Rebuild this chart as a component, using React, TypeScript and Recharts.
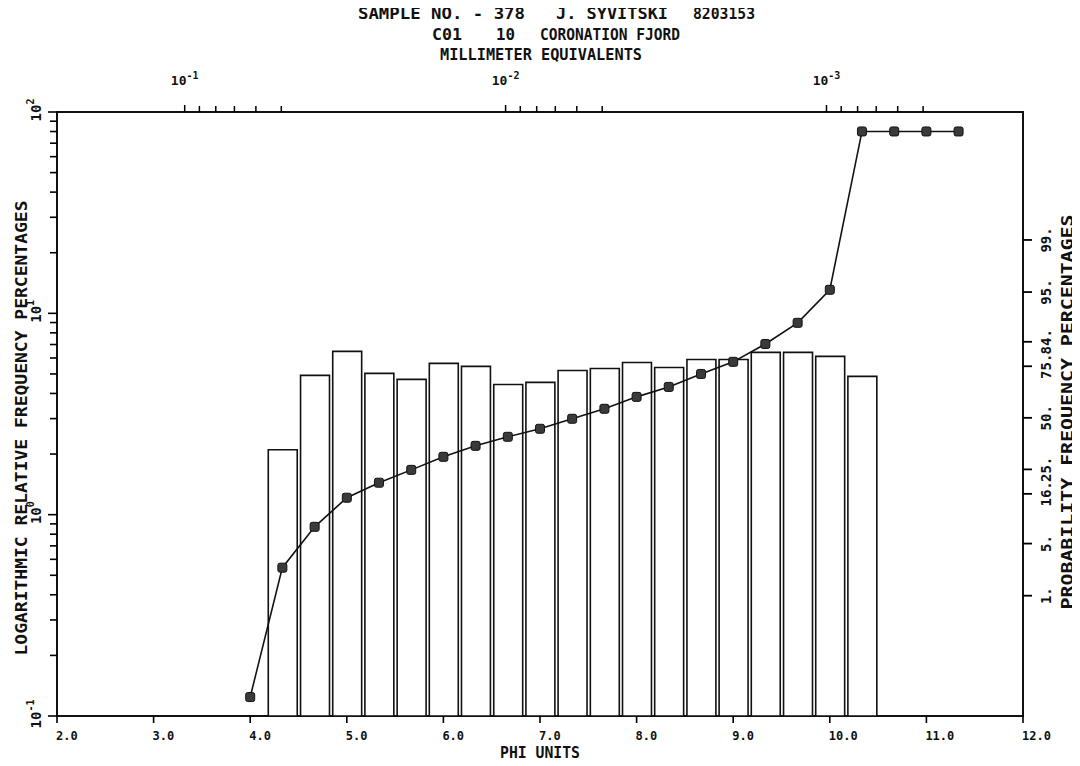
import { Bar, ComposedChart, Line, ReferenceArea, ReferenceLine, XAxis, YAxis } from "recharts";

// phi positions of the cumulative curve points (1/3 phi steps)
const phiPoints = [
  4.0, 4.333, 4.667, 5.0, 5.333, 5.667, 6.0, 6.333, 6.667, 7.0, 7.333, 7.667,
  8.0, 8.333, 8.667, 9.0, 9.333, 9.667, 10.0, 10.333, 10.667, 11.0, 11.333,
];
// cumulative percent, read against the probability axis
const cumulativePct = [
  0.013, 2.5, 7.7, 14.8, 19.8, 24.8, 30.5, 35.7, 40.2, 44.3, 49.5, 54.7, 60.8,
  65.7, 71.7, 76.8, 83.3, 89.3, 95.3, 99.991, 99.991, 99.991, 99.991,
];
// histogram bar centres and relative frequency percent (log axis)
const barPhi = [
  4.333, 4.667, 5.0, 5.333, 5.667, 6.0, 6.333, 6.667, 7.0, 7.333, 7.667, 8.0,
  8.333, 8.667, 9.0, 9.333, 9.667, 10.0, 10.333,
];
const freqPct = [
  2.1, 4.92, 6.47, 5.03, 4.7, 5.64, 5.45, 4.43, 4.54, 5.2, 5.32, 5.7, 5.38,
  5.9, 5.9, 6.4, 6.4, 6.11, 4.86,
];

const phiTicks = [2, 3, 4, 5, 6, 7, 8, 9, 10, 11, 12];
const freqTicks = [
  0.1, 0.2, 0.3, 0.4, 0.5, 0.6, 0.7, 0.8, 0.9, 1, 2, 3, 4, 5, 6, 7, 8, 9, 10,
  20, 30, 40, 50, 60, 70, 80, 90, 100,
];
const probTicks = [1, 5, 16, 25, 50, 75, 84, 95, 99];
const mmTicks = [
  0.1, 0.09, 0.08, 0.07, 0.06, 0.05, 0.01, 0.009, 0.008, 0.007, 0.006, 0.005,
  0.001, 0.0009, 0.0008, 0.0007, 0.0006, 0.0005,
];
const mmMajors = [0.1, 0.01, 0.001];

const FONT = '"DejaVu Sans Mono", monospace';
const INK = "#111";

// inverse normal CDF (Acklam) — probability paper transform
function probit(p: number): number {
  const a = [-39.69683028665376, 220.9460984245205, -275.9285104469687, 138.357751867269, -30.66479806614716, 2.506628277459239];
  const b = [-54.47609879822406, 161.5858368580409, -155.6989798598866, 66.80131188771972, -13.28068155288572];
  const c = [-0.007784894002430293, -0.3223964580411365, -2.400758277161838, -2.549732539343734, 4.374664141464968, 2.938163982698783];
  const d = [0.007784695709041462, 0.3224671290700398, 2.445134137142996, 3.754408661907416];
  const pl = 0.02425;
  if (p < pl) {
    const q = Math.sqrt(-2 * Math.log(p));
    return (((((c[0] * q + c[1]) * q + c[2]) * q + c[3]) * q + c[4]) * q + c[5]) / ((((d[0] * q + d[1]) * q + d[2]) * q + d[3]) * q + 1);
  }
  if (p > 1 - pl) {
    const q = Math.sqrt(-2 * Math.log(1 - p));
    return -(((((c[0] * q + c[1]) * q + c[2]) * q + c[3]) * q + c[4]) * q + c[5]) / ((((d[0] * q + d[1]) * q + d[2]) * q + d[3]) * q + 1);
  }
  const q = p - 0.5;
  const r = q * q;
  return ((((((a[0] * r + a[1]) * r + a[2]) * r + a[3]) * r + a[4]) * r + a[5]) * q) / (((((b[0] * r + b[1]) * r + b[2]) * r + b[3]) * r + b[4]) * r + 1);
}

const phiOfMm = (mm: number) => -Math.log2(mm);
const isDecade = (v: number) => {
  const e = Math.log10(v);
  return Math.abs(e - Math.round(e)) < 1e-6;
};

const data = phiPoints.map((phi, i) => {
  const j = barPhi.indexOf(phi);
  return { phi, z: probit(cumulativePct[i] / 100), freq: j >= 0 ? freqPct[j] : null };
});

const W = 1072;
const H = 758;
// plot box in chart coords
const PL = 49;
const PR = 1015;
const PT = 104;
const PB = 708;
const PHI_DOMAIN: [number, number] = [2, 12];
const FREQ_DOMAIN: [number, number] = [0.1, 100];
const Z_DOMAIN: [number, number] = [-3.9, 4.0];
// outward tick lengths in axis units (about 7-9 px)
const PHI_PER_PX = (PHI_DOMAIN[1] - PHI_DOMAIN[0]) / (PR - PL);
const DECADES_PER_PX = 3 / (PB - PT);

const LeftTick = (props: any) => {
  const v = props.payload.value;
  if (!isDecade(v)) return <g />;
  const e = Math.round(Math.log10(v));
  const y = props.y - 2;
  const x = 28;
  return (
    <text x={x} y={y} transform={`rotate(-90 ${x} ${y})`} textAnchor="middle" dominantBaseline="central"
      fontFamily={FONT} fontWeight="bold" fontSize={14} fill={INK}>
      10<tspan dy={-6} fontSize={10}>{e}</tspan>
    </text>
  );
};

const BottomTick = (props: any) => (
  <text x={props.x - 1} y={732} fontFamily={FONT} fontWeight="bold" fontSize={12} fill={INK}>
    {props.payload.value.toFixed(1)}
  </text>
);

const TopTick = (props: any) => {
  const v = props.payload.value;
  const m = mmMajors.find((mm) => Math.abs(phiOfMm(mm) - v) < 1e-6);
  return (
    <g>
      <path d={`M${props.x},${PT - (m !== undefined ? 7 : 6)}V${PT}`} stroke="#000" strokeWidth={1.5} fill="none" />
      {m !== undefined && (
        <text x={props.x} y={77} textAnchor="middle" fontFamily={FONT} fontWeight="bold" fontSize={13} fill={INK}>
          10<tspan dy={-6} fontSize={10}>{Math.round(Math.log10(m))}</tspan>
        </text>
      )}
    </g>
  );
};

const RightTick = (props: any) => {
  const v = props.payload.value;
  const p = probTicks.find((t) => Math.abs(probit(t / 100) - v) < 1e-6);
  if (p === undefined) return <g />;
  const x = 1038;
  const y = props.y;
  return (
    <text x={x} y={y} transform={`rotate(-90 ${x} ${y})`} textAnchor="middle" dominantBaseline="central"
      fontFamily={FONT} fontWeight="bold" fontSize={14} fill={INK}>
      {p}.
    </text>
  );
};

const SquareDot = (props: any) => {
  const { cx, cy, index } = props;
  if (cx == null || cy == null) return <g key={index} />;
  return <rect key={index} x={cx - 4.5} y={cy - 4.5} width={9} height={9} rx={2} fill="#3a3a3a" stroke={INK} strokeWidth={1} />;
};

const txt = { fontFamily: FONT, fontWeight: "bold" as const, fill: INK, whiteSpace: "pre" as const };

export default function App() {
  const tickStroke = { stroke: "#000", strokeWidth: 1.6, ifOverflow: "visible" as const };
  return (
    <div style={{ position: "relative", width: W, height: H, background: "#fff" }}>
      <ComposedChart width={W} height={H} data={data} margin={{ top: 0, right: 0, bottom: 0, left: 0 }}>
        {/* axes the series are drawn against */}
        <XAxis xAxisId="phi" dataKey="phi" type="number" domain={PHI_DOMAIN} allowDataOverflow hide />
        <YAxis yAxisId="freq" scale="log" type="number" domain={FREQ_DOMAIN} allowDataOverflow hide />
        <YAxis yAxisId="prob" type="number" domain={Z_DOMAIN} allowDataOverflow hide />
        {/* label axes, same domains; the box is drawn by the ReferenceArea */}
        <XAxis xAxisId="phiFrame" dataKey="phi" type="number" domain={PHI_DOMAIN} ticks={phiTicks} interval={0}
          allowDataOverflow height={H - PB} axisLine={false} tickLine={false} tick={<BottomTick />} />
        <XAxis xAxisId="mm" dataKey="phi" orientation="top" type="number" domain={PHI_DOMAIN} ticks={mmTicks.map(phiOfMm)} interval={0}
          allowDataOverflow height={PT} axisLine={false} tickLine={false} tick={<TopTick />} />
        <YAxis yAxisId="freqFrame" dataKey="freq" scale="log" type="number" domain={FREQ_DOMAIN} ticks={freqTicks} interval={0}
          allowDataOverflow width={PL} axisLine={false} tickLine={false} tick={<LeftTick />} />
        <YAxis yAxisId="probFrame" dataKey="z" orientation="right" type="number" domain={Z_DOMAIN} ticks={probTicks.map((p) => probit(p / 100))}
          interval={0} allowDataOverflow width={W - PR} axisLine={false} tickLine={false} tick={<RightTick />} />
        <ReferenceArea xAxisId="phi" yAxisId="freq" x1={PHI_DOMAIN[0]} x2={PHI_DOMAIN[1]} y1={FREQ_DOMAIN[0]} y2={FREQ_DOMAIN[1]}
          fill="none" fillOpacity={0} stroke={INK} strokeWidth={2} strokeOpacity={1} ifOverflow="visible" />
        {/* outward tick marks on left, bottom and right */}
        {freqTicks.map((v) => (
          <ReferenceLine key={`l${v}`} xAxisId="phi" yAxisId="freq" {...tickStroke}
            segment={[{ x: PHI_DOMAIN[0] - (isDecade(v) ? 9 : 7) * PHI_PER_PX, y: v }, { x: PHI_DOMAIN[0], y: v }]} />
        ))}
        {phiTicks.map((v) => (
          <ReferenceLine key={`b${v}`} xAxisId="phi" yAxisId="freq" {...tickStroke}
            segment={[{ x: v, y: FREQ_DOMAIN[0] }, { x: v, y: FREQ_DOMAIN[0] * Math.pow(10, -7 * DECADES_PER_PX) }]} />
        ))}
        {probTicks.map((p) => (
          <ReferenceLine key={`r${p}`} xAxisId="phi" yAxisId="prob" {...tickStroke} strokeWidth={1.8}
            segment={[{ x: PHI_DOMAIN[1], y: probit(p / 100) }, { x: PHI_DOMAIN[1] + 9 * PHI_PER_PX, y: probit(p / 100) }]} />
        ))}
        <Bar xAxisId="phi" yAxisId="freq" dataKey="freq" barSize={32.2} fill="#fff" stroke={INK} strokeWidth={1.6}
          isAnimationActive={false} />
        <Line xAxisId="phi" yAxisId="prob" dataKey="z" type="linear" stroke={INK} strokeWidth={1.6}
          dot={SquareDot} activeDot={false} isAnimationActive={false} />
      </ComposedChart>
      <svg width={W} height={H} style={{ position: "absolute", left: 0, top: 0, pointerEvents: "none", overflow: "visible" }}>
        <text x={350} y={6} textLength={167} lengthAdjust="spacingAndGlyphs" fontSize={15} style={txt} dominantBaseline="central">SAMPLE NO. - 378</text>
        <text x={548} y={6} textLength={112} lengthAdjust="spacingAndGlyphs" fontSize={15} style={txt} dominantBaseline="central">J. SYVITSKI</text>
        <text x={685} y={6} textLength={62} lengthAdjust="spacingAndGlyphs" fontSize={15} style={txt} dominantBaseline="central">8203153</text>
        <text x={424} y={27} textLength={30} lengthAdjust="spacingAndGlyphs" fontSize={15} style={txt} dominantBaseline="central">C01</text>
        <text x={488} y={27} textLength={19} lengthAdjust="spacingAndGlyphs" fontSize={15} style={txt} dominantBaseline="central">10</text>
        <text x={532} y={27} textLength={140} lengthAdjust="spacingAndGlyphs" fontSize={15} style={txt} dominantBaseline="central">CORONATION FJORD</text>
        <text x={432} y={47} textLength={202} lengthAdjust="spacingAndGlyphs" fontSize={15} style={txt} dominantBaseline="central">MILLIMETER EQUIVALENTS</text>
        <text x={532} y={745} textAnchor="middle" textLength={80} lengthAdjust="spacingAndGlyphs" fontSize={15} style={txt} dominantBaseline="central">PHI UNITS</text>
        <text x={14} y={420} transform="rotate(-90 14 420)" textAnchor="middle" textLength={455} lengthAdjust="spacingAndGlyphs"
          fontSize={15} style={txt} dominantBaseline="central">LOGARITHMIC RELATIVE FREQUENCY PERCENTAGES</text>
        <text x={1060} y={404} transform="rotate(-90 1060 404)" textAnchor="middle" textLength={395} lengthAdjust="spacingAndGlyphs"
          fontSize={15} style={txt} dominantBaseline="central">PROBABILITY FREQUENCY PERCENTAGES</text>
      </svg>
    </div>
  );
}
